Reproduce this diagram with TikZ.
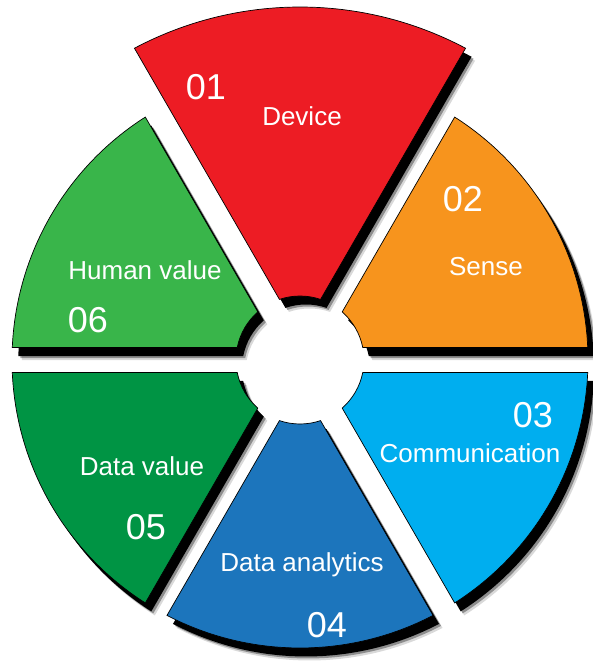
\documentclass[tikz,border=0pt]{standalone}
\usepackage{fontspec}
\setmainfont{Liberation Sans}
\usetikzlibrary{shadows}

\definecolor{devred}{HTML}{ED1C24}
\definecolor{senseorange}{HTML}{F7941D}
\definecolor{commblue}{HTML}{00AEEF}
\definecolor{analyticsblue}{HTML}{1C75BC}
\definecolor{datagreen}{HTML}{009444}
\definecolor{humangreen}{HTML}{39B54A}

\tikzset{
  part/.style={draw=black, line width=0.7pt,
    drop shadow={shadow xshift=9.5pt, shadow yshift=-12.5pt, opacity=.15, fill=black},
    drop shadow={shadow xshift=8pt, shadow yshift=-10.5pt, opacity=.35, fill=black},
    drop shadow={shadow xshift=6pt, shadow yshift=-8.5pt, opacity=1, fill=black}},
  lbl/.style={text=white, inner sep=0pt, anchor=base, font=\fontsize{26}{30}\selectfont},
  num/.style={text=white, inner sep=0pt, anchor=base, font=\fontsize{36}{40}\selectfont}
}

% colour, from angle, to angle, outer radius
\newcommand{\ringpart}[4]{%
  \path[part, fill=#1] ({#2+asin(12.5/#4)}:#4pt)
    arc[start angle={#2+asin(12.5/#4)}, end angle={#3-asin(12.5/#4)}, radius=#4pt]
    -- ({#3-asin(12.5/64)}:64pt)
    arc[start angle={#3-asin(12.5/64)}, end angle={#2+asin(12.5/64)}, radius=64pt]
    -- cycle;}

\begin{document}
\begin{tikzpicture}
  \useasboundingbox (-300pt,-301pt) rectangle (292pt,360pt);

  % the six parts of the ring
  \ringpart{devred}{60}{120}{353}
  \ringpart{senseorange}{0}{60}{288}
  \ringpart{commblue}{300}{360}{288}
  \ringpart{analyticsblue}{240}{300}{288}
  \ringpart{datagreen}{180}{240}{288}
  \ringpart{humangreen}{120}{180}{288}

  % labels
  \node[num] (n01) at (-94pt,260pt) {01};
  \node[lbl] (device) at (2pt,234pt) {Device};
  \node[num] (n02) at (163pt,148pt) {02};
  \node[lbl] (sense) at (186pt,84pt) {Sense};
  \node[num] (n03) at (233pt,-67pt) {03};
  \node[lbl] (communication) at (170pt,-102pt) {Communication};
  \node[lbl] (analytics) at (2pt,-211pt) {Data analytics};
  \node[num] (n04) at (27pt,-277pt) {04};
  \node[lbl] (datavalue) at (-158pt,-115pt) {Data value};
  \node[num] (n05) at (-154pt,-179pt) {05};
  \node[lbl] (humanvalue) at (-155pt,80pt) {Human value};
  \node[num] (n06) at (-212pt,27pt) {06};
\end{tikzpicture}
\end{document}
